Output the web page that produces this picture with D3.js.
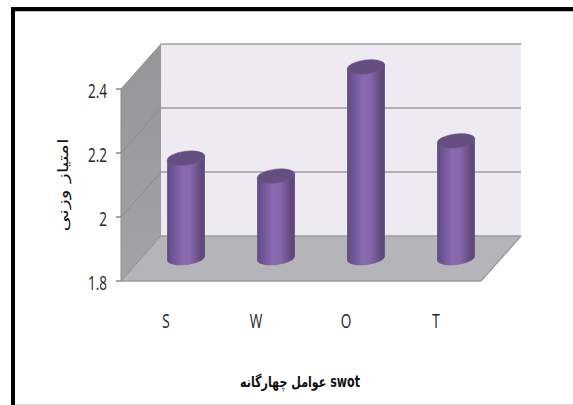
<!DOCTYPE html>
<html><head><meta charset="utf-8">
<script src="https://cdn.jsdelivr.net/npm/d3@7"></script>
<style>html,body{margin:0;padding:0;background:#fff}svg{display:block}</style>
</head><body><svg id="c" width="573" height="405"></svg>
<script>
const categories = ["S","W","O","T"];
const values = [2.112,2.056,2.397,2.166];
const tickValues = [1.8,2,2.2,2.4];
const tickLabels = ["1.8","2","2.2","2.4"];
const yTitle = "امتیاز  وزنی";
const xTitle = "عوامل چهارگانه   swot";

const svg = d3.select("#c");
const defs = svg.append("defs");
const gr = defs.append("linearGradient").attr("id","cyl");
[[0,"#5d4a80"],[.1,"#6a5290"],[.42,"#8a6bb0"],[.62,"#8566ab"],[.9,"#62497f"],[1,"#5a4675"]]
 .forEach(([o,c])=>gr.append("stop").attr("offset",o).attr("stop-color",c));
const wg = defs.append("linearGradient").attr("id","wall").attr("x1",0).attr("x2",0).attr("y1",0).attr("y2",1);
wg.append("stop").attr("offset",0).attr("stop-color","#969598");
wg.append("stop").attr("offset",1).attr("stop-color","#a3a2a5");
defs.append("filter").attr("id","soft").append("feGaussianBlur").attr("stdDeviation",0.45);

// frame
svg.append("rect").attr("x",11).attr("y",7).attr("width",562).attr("height",4).attr("fill","#000");
svg.append("rect").attr("x",11).attr("y",7).attr("width",4).attr("height",398).attr("fill","#000");
svg.append("rect").attr("x",15).attr("y",11).attr("width",558).attr("height",1).attr("fill","#bdbdbd");
svg.append("rect").attr("x",15).attr("y",404).attr("width",558).attr("height",1).attr("fill","#dcdcdc");

const x = d3.scaleBand().domain(categories).range([121,481]);
const y = d3.scaleLinear().domain([1.8,2.4]).range([281,89]);
const dx = 40, dy = 45;
const plot = svg.append("g").attr("filter","url(#soft)");
const y0 = y(1.8), y1 = y(2.4), xL = x.range()[0], xR = x.range()[1];
const poly = p => p.map(q=>q.join(",")).join(" ");

plot.append("polygon").attr("points",poly([[xL+dx,y1-dy],[xR+dx,y1-dy],[xR+dx,y0-dy],[xL+dx,y0-dy]])).attr("fill","#edebf1");
plot.append("polygon").attr("points",poly([[xL,y1],[xL+dx,y1-dy],[xL+dx,y0-dy],[xL,y0]])).attr("fill","url(#wall)");
plot.append("polygon").attr("points",poly([[xL,y0],[xL+dx,y0-dy],[xR+dx,y0-dy],[xR,y0]])).attr("fill","#b5b4b8");

tickValues.forEach(t=>{
  plot.append("line").attr("x1",xL+dx).attr("x2",xR+dx).attr("y1",y(t)-dy).attr("y2",y(t)-dy).attr("stroke","#9c9c9c").attr("stroke-width",1.6);
  plot.append("line").attr("x1",xL).attr("x2",xL+dx).attr("y1",y(t)).attr("y2",y(t)-dy).attr("stroke","#8c8c8e").attr("stroke-width",1);
  plot.append("line").attr("x1",xL-5).attr("x2",xL).attr("y1",y(t)).attr("y2",y(t)).attr("stroke","#808080").attr("stroke-width",1.4);
});
plot.append("line").attr("x1",xL).attr("x2",xR).attr("y1",y0).attr("y2",y0).attr("stroke","#9c9c9c").attr("stroke-width",1.6);
plot.append("line").attr("x1",xR).attr("x2",xR+dx).attr("y1",y0).attr("y2",y0-dy).attr("stroke","#9c9c9c").attr("stroke-width",1.4);
plot.append("line").attr("x1",xL).attr("x2",xL).attr("y1",y1).attr("y2",y0).attr("stroke","#8c8c8e").attr("stroke-width",1);

// cylinders
const rx = 19, ry = 7, tilt = -7, ox = 20, oy = 23;
const th = tilt*Math.PI/180;
const ang = d3.range(0,25).map(k=>Math.PI*k/24);
const rim = (cx,cy,a)=>[cx+rx*Math.cos(a)*Math.cos(th)-ry*Math.sin(a)*Math.sin(th),
                        cy+rx*Math.cos(a)*Math.sin(th)+ry*Math.sin(a)*Math.cos(th)];
categories.forEach((c,i)=>{
  const cx = x(c)+x.bandwidth()/2+ox, ty = y(values[i])-oy, by = y(1.8)-oy;
  const g = plot.append("g");
  const lower = ang.map(a=>rim(cx,by,a));
  const pts = [rim(cx,ty,0),...lower,rim(cx,ty,Math.PI)];
  g.append("polygon").attr("points",poly(pts)).attr("fill","url(#cyl)");
  g.append("ellipse").attr("cx",cx).attr("cy",ty).attr("rx",rx).attr("ry",ry)
   .attr("transform",`rotate(${tilt} ${cx} ${ty})`).attr("fill","#654f80").attr("stroke","#6f5a8c").attr("stroke-width",.5);
});

// text
const condensed = (tx,ty,str,size,sx,anchor,col,weight,fam) => svg.append("text")
  .attr("transform",`translate(${tx},${ty}) scale(${sx},1)`)
  .attr("text-anchor",anchor).attr("font-family",fam||"'Open Sans'")
  .attr("font-size",size).attr("font-weight",weight||400).attr("fill",col||"#222").text(str);

tickValues.forEach((t,i)=>condensed(107,y(t)+9,tickLabels[i],20,.68,"end"));
categories.forEach(c=>condensed(x(c)+x.bandwidth()/2,328,c,20,.68,"middle"));
condensed(300,387,xTitle,15,.74,"middle","#111",700,"'DejaVu Sans'");
svg.append("text").attr("transform","translate(68,185) rotate(-90) scale(1.35,1)").attr("text-anchor","middle")
  .attr("font-family","'DejaVu Sans'").attr("font-size",15).attr("font-weight",400).attr("fill","#111").text(yTitle);
</script></body></html>
